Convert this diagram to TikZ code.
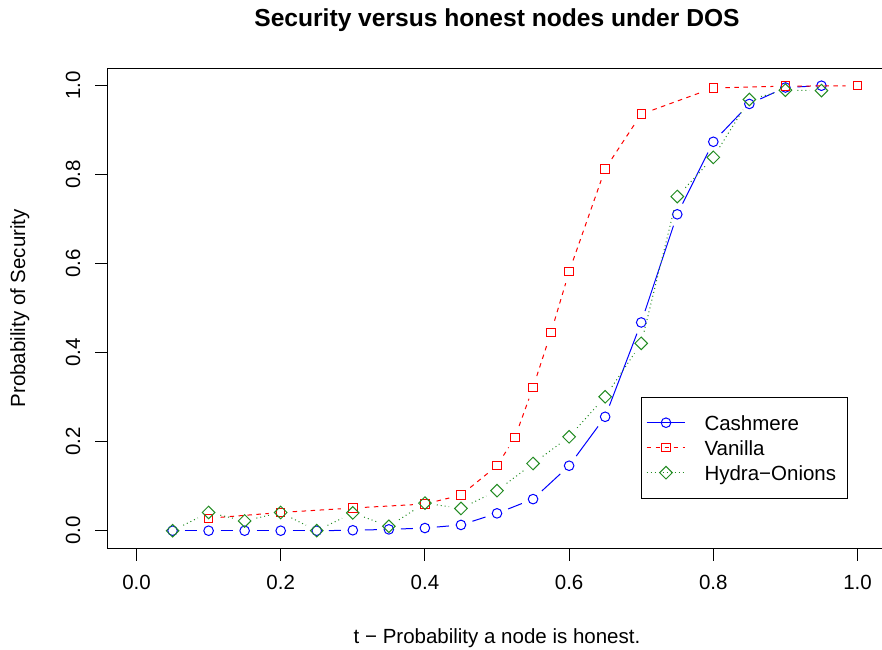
\documentclass[tikz,border=0pt]{standalone}
\usepackage{fontspec}
\setmainfont{Liberation Sans}
\usetikzlibrary{shapes.geometric}

\definecolor{cashblue}{RGB}{0,0,255}
\definecolor{vanred}{RGB}{255,0,0}
\definecolor{hydgreen}{RGB}{34,139,34}

\begin{document}
\begin{tikzpicture}[x=1pt,y=-1pt,line width=1pt,
  basefont/.style={font=\fontsize{20.5}{24}\selectfont,inner sep=0pt},
  titlefont/.style={font=\fontsize{24.6}{29}\selectfont\bfseries,inner sep=0pt},
  plotframe/.style={draw=black,line width=1pt},
  tickmark/.style={draw=black,line width=1pt},
  gapline/.style={shorten <=12pt,shorten >=12pt},
  cashline/.style={draw=cashblue,line width=1pt},
  vanline/.style={draw=vanred,line width=1pt,dash pattern=on 4.5pt off 4.5pt},
  hydline/.style={draw=hydgreen,line width=1pt,dash pattern=on 1pt off 3pt},
  cashmark/.style={circle,draw=cashblue,line width=1pt,minimum size=9.6pt,inner sep=0pt,outer sep=0pt},
  vanmark/.style={rectangle,draw=vanred,line width=1pt,minimum size=8.4pt,inner sep=0pt,outer sep=0pt},
  hydmark/.style={diamond,aspect=1,draw=hydgreen,line width=1pt,minimum width=12.6pt,minimum height=12.6pt,inner sep=0pt,outer sep=0pt}]

\useasboundingbox (0,0) rectangle (882,649);

% title and axis titles
\node[titlefont,anchor=base] (title) at (497,26) {Security versus honest nodes under DOS};
\node[basefont,anchor=base] (xlabel) at (497,643) {t − Probability a node is honest.};
\node[basefont,anchor=base,rotate=90] (ylabel) at (25,308.2) {Probability of Security};

% plot frame (its right side lies just past the page edge)
\draw[plotframe] (107.7,548.5) -- (107.7,68) -- (886,68) -- (886,548.5) -- cycle;

% x axis ticks and labels
\foreach \t [count=\k] in {0.0,0.2,0.4,0.6,0.8,1.0}{
  \pgfmathsetmacro\px{136.5+721*\t}
  \coordinate (xt\k) at (\px,548.5);
  \draw[tickmark] (xt\k) -- ++(0,12.3);
  \node[basefont,anchor=base] (xl\k) at (\px,589) {\t};
}
% y axis ticks and labels
\foreach \v [count=\k] in {0.0,0.2,0.4,0.6,0.8,1.0}{
  \pgfmathsetmacro\py{530.7-445*\v}
  \coordinate (yt\k) at (107.7,\py);
  \draw[tickmark] (yt\k) -- ++(-12.3,0);
  \node[basefont,anchor=base,rotate=90] (yl\k) at (80,\py) {\v};
}

% data markers
\begin{scope}[shift={(136.5,530.7)},x=721pt,y=445pt]
  \foreach \t/\v [count=\i] in {0.05/0,0.10/0,0.15/0,0.20/0,0.25/0,0.30/0.001,0.35/0.003,
      0.40/0.006,0.45/0.013,0.50/0.039,0.55/0.071,0.60/0.146,0.65/0.256,0.70/0.468,
      0.75/0.711,0.80/0.874,0.85/0.959,0.90/0.996,0.95/1.0}
    \node[cashmark] (c\i) at (\t,\v) {};
  \foreach \t/\v [count=\i] in {0.10/0.028,0.20/0.041,0.30/0.051,0.40/0.060,0.45/0.080,
      0.50/0.146,0.525/0.210,0.55/0.322,0.575/0.446,0.60/0.582,0.65/0.813,0.70/0.936,
      0.80/0.995,0.90/0.999,1.00/1.0}
    \node[vanmark] (v\i) at (\t,\v) {};
  \foreach \t/\v [count=\i] in {0.05/0,0.10/0.041,0.15/0.022,0.20/0.041,0.25/0,0.30/0.040,
      0.35/0.010,0.40/0.062,0.45/0.050,0.50/0.090,0.55/0.151,0.60/0.211,0.65/0.301,
      0.70/0.421,0.75/0.751,0.80/0.839,0.85/0.969,0.90/0.990,0.95/0.989}
    \node[hydmark] (h\i) at (\t,\v) {};
\end{scope}

% connecting lines, broken around each marker
\foreach \i in {1,...,18}{
  \pgfmathtruncatemacro\j{\i+1}
  \draw[cashline,gapline] (c\i.center) -- (c\j.center);
}
\foreach \i in {1,...,14}{
  \pgfmathtruncatemacro\j{\i+1}
  \draw[vanline,gapline] (v\i.center) -- (v\j.center);
}
\foreach \i in {1,...,18}{
  \pgfmathtruncatemacro\j{\i+1}
  \draw[hydline,gapline] (h\i.center) -- (h\j.center);
}

% legend
\draw[plotframe,fill=white] (641.3,397.3) rectangle (847.7,498.3);
\coordinate (la1) at (646.7,422.7); \coordinate (lb1) at (685,422.7);
\coordinate (la2) at (646.7,447.7); \coordinate (lb2) at (685,447.7);
\coordinate (la3) at (646.7,472.7); \coordinate (lb3) at (685,472.7);
\draw[cashline] (la1) -- (lb1);
\draw[vanline] (la2) -- (lb2);
\draw[hydline] (la3) -- (lb3);
\node[cashmark] (lm1) at (666,422.7) {};
\node[vanmark] (lm2) at (666,447.7) {};
\node[hydmark] (lm3) at (666,472.7) {};
\node[basefont,anchor=base west] (lt1) at (704,430) {Cashmere};
\node[basefont,anchor=base west] (lt2) at (704,455) {Vanilla};
\node[basefont,anchor=base west] (lt3) at (704,480) {Hydra−Onions};

\end{tikzpicture}
\end{document}
